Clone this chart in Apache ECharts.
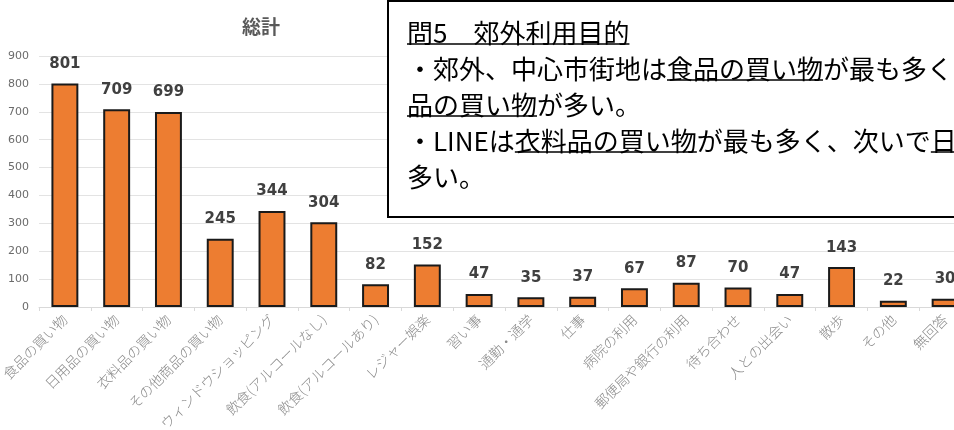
<!DOCTYPE html>
<html>
<head>
<meta charset="utf-8">
<script src="https://cdn.jsdelivr.net/npm/echarts@6/dist/echarts.min.js"></script>
<style>
  html, body { margin: 0; padding: 0; background: #fff; overflow: hidden; }
  #chart { width: 1000px; height: 430px; }
</style>
</head>
<body>
<div id="chart"></div>
<script>
// 郊外利用目的（総計）
const categories = [
  '食品の買い物', '日用品の買い物', '衣料品の買い物', 'その他商品の買い物',
  'ウィンドウショッピング', '飲食(アルコールなし)', '飲食(アルコールあり)', 'レジャー娯楽',
  '習い事', '通勤・通学', '仕事', '病院の利用', '郵便局や銀行の利用',
  '待ち合わせ', '人との出会い', '散歩', 'その他', '無回答'
];
const totals = [801, 709, 699, 245, 344, 304, 82, 152, 47, 35, 37, 67, 87, 70, 47, 143, 22, 30];
const yTicks = [0, 100, 200, 300, 400, 500, 600, 700, 800, 900];

// Note box lines: [text, underlined]
const noteLines = [
  [['問5　郊外利用目的', true]],
  [['・郊外、中心市街地は', false], ['食品の買い物', true], ['が最も多く、次いで', false], ['日用', true]],
  [['品の買い物', true], ['が多い。', false]],
  [['・LINEは', false], ['衣料品の買い物', true], ['が最も多く、次いで', false], ['日用品の買い物', true], ['が', false]],
  [['多い。', false]]
];

const jpFont = '"Noto Sans CJK JP", "Noto Sans", sans-serif';
const noteFontSize = 26;
const noteX = 407, noteY0 = 33, noteStep = 36;

const measureCtx = document.createElement('canvas').getContext('2d');
measureCtx.font = noteFontSize + 'px ' + jpFont;

const graphics = [
  {
    type: 'rect', z: 100,
    shape: { x: 388, y: 1, width: 640, height: 216 },
    style: { fill: '#ffffff', stroke: '#000000', lineWidth: 2 }
  }
];
noteLines.forEach((segs, i) => {
  const cy = noteY0 + i * noteStep;
  let x = noteX;
  segs.forEach(([txt, ul]) => {
    const w = measureCtx.measureText(txt).width;
    graphics.push({
      type: 'text', z: 101,
      x: x, y: cy,
      style: {
        text: txt, fill: '#000000',
        font: noteFontSize + 'px ' + jpFont,
        textVerticalAlign: 'middle', verticalAlign: 'middle'
      }
    });
    if (ul) {
      graphics.push({
        type: 'line', z: 101,
        shape: { x1: x, y1: cy + 11, x2: x + w, y2: cy + 11 },
        style: { stroke: '#000000', lineWidth: 1.6 }
      });
    }
    x += w;
  });
});

const chart = echarts.init(document.getElementById('chart'), null, { renderer: 'canvas' });
chart.setOption({
  animation: false,
  backgroundColor: '#ffffff',
  title: {
    text: '総計',
    left: 237, top: 12,
    textStyle: { fontFamily: jpFont, fontSize: 19, fontWeight: 'bold', color: '#595959' }
  },
  grid: { left: 39, top: 56, width: 932, height: 251, containLabel: false, outerBoundsMode: 'none' },
  xAxis: {
    type: 'category',
    data: categories,
    axisLine: { lineStyle: { color: '#d9d9d9', width: 1 } },
    axisTick: { show: true, length: 4, lineStyle: { color: '#d9d9d9' } },
    axisLabel: {
      rotate: 45, interval: 0, margin: 10,
      color: '#8a8a8a', fontSize: 14, fontWeight: 300, fontFamily: jpFont
    }
  },
  yAxis: {
    type: 'value',
    min: yTicks[0], max: yTicks[yTicks.length - 1], interval: 100,
    axisLine: { show: false },
    axisTick: { show: false },
    splitLine: { lineStyle: { color: '#e3e3e3', width: 1 } },
    axisLabel: { color: '#6b6b6b', fontSize: 11, margin: 10, fontFamily: 'Verdana, "DejaVu Sans", sans-serif' }
  },
  series: [{
    type: 'bar',
    data: totals,
    barWidth: '52%',
    itemStyle: { color: '#ED7D31', borderColor: '#1a1a1a', borderWidth: 2 },
    label: {
      show: true, position: 'top', distance: 12,
      color: '#404040', fontSize: 15, fontWeight: 'bold',
      fontFamily: '"DejaVu Sans", Verdana, sans-serif'
    }
  }],
  graphic: graphics
});
</script>
</body>
</html>
